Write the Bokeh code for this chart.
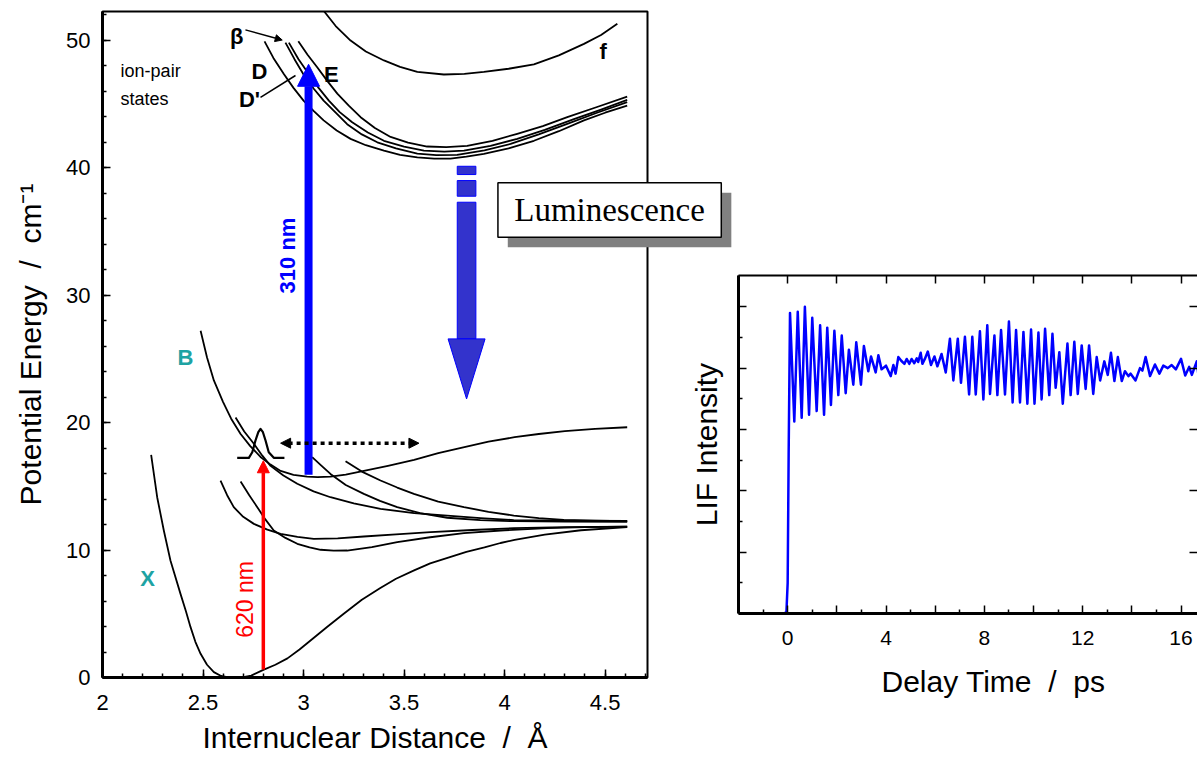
import math
from bokeh.plotting import figure
from bokeh.layouts import row, column
from bokeh.models import (Range1d, LinearAxis, SingleIntervalTicker, FixedTicker,
                          NumeralTickFormatter, Arrow, NormalHead, Spacer)
from bokeh.core.properties import value
from bokeh.embed import file_html
from bokeh.resources import INLINE

SANS = "Liberation Sans"
SERIF = "Liberation Serif"
TEAL = "#1ea3a3"
SP2 = "\u00a0\u00a0"

# ---------------- potential energy curves: r in Å, energy in 10^3 cm^-1 ----------------
x_r = [2.242, 2.272, 2.305, 2.338, 2.388, 2.415, 2.438, 2.462, 2.488, 2.52, 2.554, 2.59,
       2.62, 2.665, 2.70, 2.74, 2.80, 2.86, 2.92, 2.98, 3.05, 3.12, 3.2, 3.29, 3.38, 3.46,
       3.55, 3.63, 3.72, 3.81, 3.9, 3.98, 4.05, 4.2, 4.38, 4.61]
x_e = [17.47, 14.14, 11.53, 9.18, 6.56, 5.2, 3.95, 2.8, 1.86, 1.0, 0.42, 0.12,
       0.02, 0.0, 0.03, 0.15, 0.6, 1.0, 1.5, 2.2, 3.1, 4.0, 5.0, 6.1, 7.0, 7.75,
       8.4, 8.95, 9.4, 9.85, 10.2, 10.55, 10.8, 11.2, 11.55, 11.8]

b_r = [2.488, 2.52, 2.554, 2.60, 2.64, 2.687, 2.735, 2.786, 2.836, 2.886, 2.95, 3.018,
       3.07, 3.134, 3.21, 3.30, 3.42, 3.55, 3.67, 3.80, 3.92, 4.05, 4.17, 4.30, 4.45, 4.61]
b_e = [27.2, 25.1, 23.3, 21.6, 20.3, 19.1, 18.15, 17.3, 16.7, 16.2, 15.9, 15.76,
       15.72, 15.76, 15.92, 16.2, 16.6, 17.07, 17.6, 18.07, 18.5, 18.85, 19.1, 19.32,
       19.5, 19.63]

rep1_r = [2.662, 2.705, 2.753, 2.795, 2.836, 2.90, 2.969, 3.05, 3.134, 3.25, 3.383, 3.55,
          3.715, 3.88, 4.046, 4.3, 4.61]
rep1_e = [20.4, 19.3, 18.33, 17.4, 16.6, 15.85, 15.2, 14.6, 14.14, 13.65, 13.23, 12.9,
          12.7, 12.5, 12.35, 12.3, 12.28]

rep2_r = [3.043, 3.09, 3.134, 3.21, 3.30, 3.38, 3.466, 3.58, 3.715, 3.88, 4.046, 4.3, 4.61]
rep2_e = [17.28, 16.6, 15.97, 15.1, 14.4, 13.85, 13.36, 12.9, 12.53, 12.35, 12.26, 12.22,
          12.2]

rep3_r = [3.209, 3.29, 3.383, 3.466, 3.549, 3.67, 3.798, 3.92, 4.046, 4.17, 4.295, 4.45,
          4.61]
rep3_e = [16.97, 16.15, 15.45, 14.9, 14.4, 13.8, 13.36, 13.0, 12.7, 12.5, 12.37, 12.3,
          12.26]

bnd1_r = [2.587, 2.62, 2.653, 2.70, 2.753, 2.82, 2.886, 2.97, 3.051, 3.17, 3.30, 3.46,
          3.632, 3.84, 4.046, 4.3, 4.61]
bnd1_e = [15.45, 14.3, 13.36, 12.6, 12.05, 11.6, 11.27, 11.03, 10.88, 10.92, 11.06, 11.23,
          11.4, 11.57, 11.71, 11.8, 11.84]

bnd2_r = [2.687, 2.73, 2.77, 2.81, 2.852, 2.91, 2.969, 3.03, 3.085, 3.15, 3.217, 3.34,
          3.466, 3.63, 3.798, 4.0, 4.212, 4.4, 4.61]
bnd2_e = [15.37, 14.3, 13.36, 12.4, 11.53, 10.95, 10.49, 10.2, 10.02, 9.95, 9.96, 10.22,
          10.61, 11.0, 11.32, 11.55, 11.71, 11.8, 11.84]

f_r = [3.10, 3.16, 3.234, 3.31, 3.40, 3.48, 3.566, 3.698, 3.80, 3.897, 4.02, 4.146, 4.27,
       4.395, 4.48, 4.561]
f_e = [52.3, 51.1, 49.96, 49.1, 48.4, 47.9, 47.5, 47.3, 47.35, 47.5, 47.75, 48.1, 48.8,
       49.7, 50.4, 51.27]

ip1_r = [2.806, 2.85, 2.902, 2.95, 3.0, 3.05, 3.10, 3.165, 3.234, 3.31, 3.40, 3.48, 3.566,
         3.65, 3.731, 3.81, 3.897, 4.02, 4.146, 4.27, 4.395, 4.50, 4.61]
ip1_e = [49.9, 48.6, 47.34, 46.25, 45.25, 44.45, 43.7, 42.9, 42.25, 41.75, 41.33, 41.0,
         40.8, 40.7, 40.7, 40.85, 41.07, 41.5, 42.1, 42.85, 43.7, 44.3, 44.86]

ip2_r = [2.910, 2.955, 3.0, 3.05, 3.10, 3.16, 3.217, 3.29, 3.367, 3.46, 3.566, 3.66, 3.764,
         3.90, 4.03, 4.17, 4.312, 4.46, 4.61]
ip2_e = [49.8, 48.5, 47.3, 46.2, 45.25, 44.3, 43.4, 42.6, 41.98, 41.5, 41.1, 40.98, 41.0,
         41.35, 41.85, 42.6, 43.43, 44.3, 45.13]

ip3_r = [2.927, 2.975, 3.026, 3.075, 3.126, 3.18, 3.242, 3.32, 3.40, 3.50, 3.599, 3.70,
         3.798, 3.93, 4.063, 4.20, 4.345, 4.48, 4.61]
ip3_e = [49.8, 48.5, 47.34, 46.25, 45.25, 44.35, 43.55, 42.75, 42.1, 41.65, 41.33, 41.25,
         41.33, 41.7, 42.25, 42.95, 43.8, 44.55, 45.31]

ip4_r = [2.974, 3.02, 3.068, 3.118, 3.168, 3.225, 3.284, 3.355, 3.433, 3.52, 3.615, 3.71,
         3.814, 3.94, 4.063, 4.19, 4.312, 4.46, 4.61]
ip4_e = [49.9, 48.85, 47.87, 46.8, 45.8, 44.85, 43.95, 43.1, 42.4, 41.95, 41.65, 41.6,
         41.7, 42.1, 42.65, 43.25, 43.95, 44.75, 45.57]

# wave packet on the B state
packet_r = [2.670, 2.728, 2.745, 2.761, 2.775, 2.786, 2.798, 2.811, 2.827, 2.852, 2.905]
packet_e = [17.23, 17.23, 17.67, 18.59, 19.24, 19.5, 19.24, 18.59, 17.67, 17.23, 17.23]

# ---------------- LIF transient: delay (ps), intensity (arb.) ----------------
lif_t = [-0.8, -0.5, -0.2, -0.05, 0.0, 0.04, 0.095,
         0.27, 0.41, 0.57, 0.70, 0.87, 1.0, 1.18, 1.32, 1.48, 1.61, 1.76, 1.90, 2.06, 2.20,
         2.36, 2.49, 2.67, 2.79, 2.98, 3.10, 3.28, 3.39, 3.58, 3.69, 3.82, 4.0, 4.19, 4.30,
         4.39, 4.50, 4.62, 4.75, 4.84, 4.95, 5.04, 5.15, 5.25, 5.31, 5.41, 5.48, 5.58, 5.70,
         5.83, 5.97, 6.09, 6.26, 6.43, 6.60, 6.74, 6.92, 7.05, 7.21, 7.38, 7.51, 7.65, 7.82,
         7.96, 8.12, 8.23, 8.41, 8.53, 8.68, 8.84, 9.00, 9.15, 9.29, 9.45, 9.59, 9.75, 9.90,
         10.04, 10.20, 10.33, 10.47, 10.64, 10.77, 10.90, 11.05, 11.19, 11.38, 11.51, 11.66,
         11.80, 11.96, 12.12, 12.26, 12.43, 12.57, 12.71, 12.88, 13.02, 13.15, 13.29, 13.43,
         13.59, 13.72, 13.86, 13.95, 14.15, 14.33, 14.43, 14.56, 14.74, 14.94, 15.12, 15.28,
         15.46, 15.62, 15.79, 16.0, 16.17, 16.33, 16.44, 16.64, 16.72]
lif_i = [0.0, -0.01, -0.03, 0.03, 0.5, 2.6, 4.9,
         3.13, 4.92, 3.19, 5.0, 3.24, 4.82, 3.30, 4.70, 3.24, 4.66, 3.40, 4.61, 3.56, 4.53,
         3.59, 4.30, 3.73, 4.42, 3.73, 4.36, 3.95, 4.19, 3.93, 4.21, 3.98, 4.04, 3.87, 4.05,
         3.91, 4.18, 4.12, 4.07, 4.15, 4.07, 4.15, 4.08, 4.16, 4.10, 4.25, 4.07, 4.15, 4.27,
         4.05, 4.19, 4.03, 4.23, 3.93, 4.48, 3.80, 4.48, 3.76, 4.51, 3.57, 4.51, 3.57, 4.60,
         3.49, 4.70, 3.58, 4.53, 3.56, 4.62, 3.57, 4.76, 3.44, 4.62, 3.44, 4.59, 3.42, 4.63,
         3.42, 4.58, 3.49, 4.64, 3.56, 4.56, 3.68, 4.26, 3.42, 4.40, 3.56, 4.43,
         3.58, 4.37, 3.66, 4.37, 3.58, 4.18, 3.80, 4.11, 3.89, 4.25, 3.79, 4.18,
         3.79, 3.95, 3.87, 3.91, 3.80, 4.00, 3.96, 4.18, 3.87, 4.06, 3.91, 4.04,
         4.00, 4.05, 3.98, 4.15, 3.88, 4.02, 3.89, 4.11, 3.85]

# ---------------- left panel: potential energy curves ----------------
R_MIN, R_MAX = 2.0, 4.711
E_MIN, E_MAX = 0.0, 52.24

p1 = figure(width=737, height=765, x_range=Range1d(R_MIN, R_MAX),
            y_range=Range1d(E_MIN, E_MAX), output_backend="svg", toolbar_location=None,
            min_border_left=102, min_border_right=90, min_border_top=11,
            min_border_bottom=88,
            x_axis_label="Internuclear Distance" + SP2 + "/" + SP2 + "Å",
            y_axis_label="Potential Energy" + SP2 + "/" + SP2 + "cm⁻¹")
p1.grid.visible = False
p1.outline_line_color = "black"
p1.outline_line_width = 2
p1.border_fill_color = "white"


def style_axis(ax, tick_size, label_size, line_width=3, show_labels=True):
    ax.axis_line_width = line_width
    ax.axis_line_color = "black"
    ax.major_tick_in = 8
    ax.major_tick_out = 0
    ax.minor_tick_in = 4
    ax.minor_tick_out = 0
    ax.major_tick_line_width = 1.5
    ax.minor_tick_line_width = 1.5
    ax.major_label_text_font = SANS
    ax.major_label_text_font_size = tick_size
    ax.major_label_text_color = "black" if show_labels else None
    ax.axis_label_text_font = SANS
    ax.axis_label_text_font_size = label_size
    ax.axis_label_text_font_style = "normal"
    ax.axis_label_text_color = "black"


style_axis(p1.xaxis[0], "22px", "30px")
style_axis(p1.yaxis[0], "22px", "30px")
p1.xaxis.ticker = SingleIntervalTicker(interval=0.5, num_minor_ticks=5)
p1.xaxis.formatter = NumeralTickFormatter(format="0.[0]")
p1.xaxis.major_label_standoff = 17
p1.xaxis.axis_label_standoff = 8
p1.yaxis.ticker = SingleIntervalTicker(interval=10, num_minor_ticks=5)
p1.yaxis.major_label_standoff = 12
p1.yaxis.axis_label_standoff = 16

curves = [(x_r, x_e), (b_r, b_e), (rep1_r, rep1_e), (rep2_r, rep2_e), (rep3_r, rep3_e),
          (bnd1_r, bnd1_e), (bnd2_r, bnd2_e), (f_r, f_e), (ip1_r, ip1_e),
          (ip2_r, ip2_e), (ip3_r, ip3_e), (ip4_r, ip4_e)]
for r, e in curves:
    p1.line(r, e, line_color="black", line_width=1.8, line_join="round")

p1.line(packet_r, packet_e, line_color="black", line_width=2.2, line_join="round")

# probe (620 nm) and pump (310 nm) excitations
p1.add_layout(Arrow(x_start=2.80, y_start=0.63, x_end=2.80, y_end=17.0,
                    line_color="red", line_width=3.5,
                    end=NormalHead(size=12, fill_color="red", line_color="red")))
p1.add_layout(Arrow(x_start=3.025, y_start=15.9, x_end=3.025, y_end=48.1,
                    line_color="#0000ff", line_width=8,
                    end=NormalHead(size=22, fill_color="#0000ff", line_color="#0000ff")))
# vibrational motion on B
p1.add_layout(Arrow(x_start=2.886, y_start=18.38, x_end=3.574, y_end=18.38,
                    line_color="black", line_width=3.5, line_dash="4 4",
                    start=NormalHead(size=10, fill_color="black", line_color="black"),
                    end=NormalHead(size=10, fill_color="black", line_color="black")))
# luminescence arrow (broken top, solid shaft, wide head)
LUM_X, LUM_HW, LUM_HEAD_HW = 3.811, 0.0463, 0.092
lum_blocks_top = [40.1, 38.98, 37.28]
lum_blocks_bot = [39.45, 37.75, 26.56]
p1.quad(left=LUM_X - LUM_HW, right=LUM_X + LUM_HW, top=lum_blocks_top,
        bottom=lum_blocks_bot, fill_color="#3333cc", line_color="#0000ff", line_width=1)
p1.patch([LUM_X - LUM_HEAD_HW, LUM_X + LUM_HEAD_HW, LUM_X], [26.56, 26.56, 21.85],
         fill_color="#3333cc", line_color="#0000ff", line_width=1)

# pointers to the ion-pair states
p1.add_layout(Arrow(x_start=2.711, y_start=50.8, x_end=2.894, y_end=50.0,
                    line_color="black", line_width=1.5,
                    end=NormalHead(size=7, fill_color="black", line_color="black")))
p1.segment(x0=[2.786], y0=[45.51], x1=[2.96], y1=[47.22], line_color="black",
           line_width=1.5)


def lab(plot, x, y, text, size="22px", color="black", style="bold", angle=0.0,
        font=SANS, align="center"):
    plot.text(x=[x], y=[y], text=[text], text_font=value(font), text_font_size=size,
              text_color=color, text_font_style=style, angle=angle, text_align=align,
              text_baseline="middle", level="overlay")


lab(p1, 2.667, 50.27, "β")
lab(p1, 2.781, 47.53, "D")
lab(p1, 3.138, 47.29, "E")
lab(p1, 2.731, 45.3, "D'")
lab(p1, 4.49, 49.1, "f")
lab(p1, 2.09, 47.6, "ion-pair", size="18px", style="normal", align="left")
lab(p1, 2.09, 45.4, "states", size="18px", style="normal", align="left")
lab(p1, 2.413, 25.1, "B", color=TEAL)
lab(p1, 2.224, 7.76, "X", color=TEAL)
lab(p1, 2.920, 33.1, "310 nm", color="#0000ff", angle=math.pi / 2)
lab(p1, 2.71, 6.12, "620 nm", size="23px", color="red", style="normal", angle=math.pi / 2)

# luminescence box with drop shadow
p1.quad(left=[4.016], right=[5.128], top=[38.02], bottom=[33.75], fill_color="#808080",
        line_color=None, level="overlay")
p1.quad(left=[3.967], right=[5.078], top=[38.80], bottom=[34.53], fill_color="white",
        line_color="black", line_width=1.5, level="overlay")
lab(p1, 4.522, 36.67, "Luminescence", size="33px", style="normal", font=SERIF)

# y-axis title of the transient panel, set in the gap between the panels
lab(p1, 5.005, 18.27, "LIF Intensity", size="30px", style="normal", angle=math.pi / 2)

# ---------------- right panel: LIF transient ----------------
T_MIN, T_MAX = -2.0, 16.67
I_MIN, I_MAX = 0.0, 5.51

p2 = figure(width=460, height=501, x_range=Range1d(T_MIN, T_MAX),
            y_range=Range1d(I_MIN, I_MAX), output_backend="svg", toolbar_location=None,
            min_border_left=1, min_border_right=0, min_border_top=11,
            min_border_bottom=152)
p2.grid.visible = False
p2.outline_line_color = None
p2.border_fill_color = "white"

t_major = [-2, 0, 2, 4, 6, 8, 10, 12, 14, 16]
t_minor = [-1, 1, 3, 5, 7, 9, 11, 13, 15]
i_major = [0, 1, 2, 3, 4, 5]
i_minor = [0.5, 1.5, 2.5, 3.5, 4.5]

style_axis(p2.xaxis[0], "21px", "30px")
p2.xaxis.ticker = FixedTicker(ticks=t_major, minor_ticks=t_minor)
p2.xaxis.major_label_overrides = {-2: "", 2: "", 6: "", 10: "", 14: ""}
p2.xaxis.major_label_standoff = 17

style_axis(p2.yaxis[0], "1px", "1px", show_labels=False)
p2.yaxis.ticker = FixedTicker(ticks=i_major, minor_ticks=i_minor)
p2.yaxis.major_label_standoff = 0

top_ax = LinearAxis(ticker=FixedTicker(ticks=t_major, minor_ticks=[]))
style_axis(top_ax, "1px", "1px", line_width=2, show_labels=False)
top_ax.major_label_standoff = 0
p2.add_layout(top_ax, "above")

right_ax = LinearAxis(ticker=FixedTicker(ticks=i_major, minor_ticks=[]))
style_axis(right_ax, "1px", "1px", show_labels=False)
right_ax.axis_line_color = None
right_ax.major_label_standoff = 0
p2.add_layout(right_ax, "right")

p2.line(lif_t, lif_i, line_color="#0000ff", line_width=2.5, line_join="round")

# x-axis title, centred on the full (cropped) panel width
lab(p2, 8.37, -1.11, "Delay Time" + SP2 + "/" + SP2 + "ps", size="30px", style="normal")

layout = row(p1, column(Spacer(width=460, height=264), p2))
open("out.html", "w").write(file_html(layout, INLINE))
